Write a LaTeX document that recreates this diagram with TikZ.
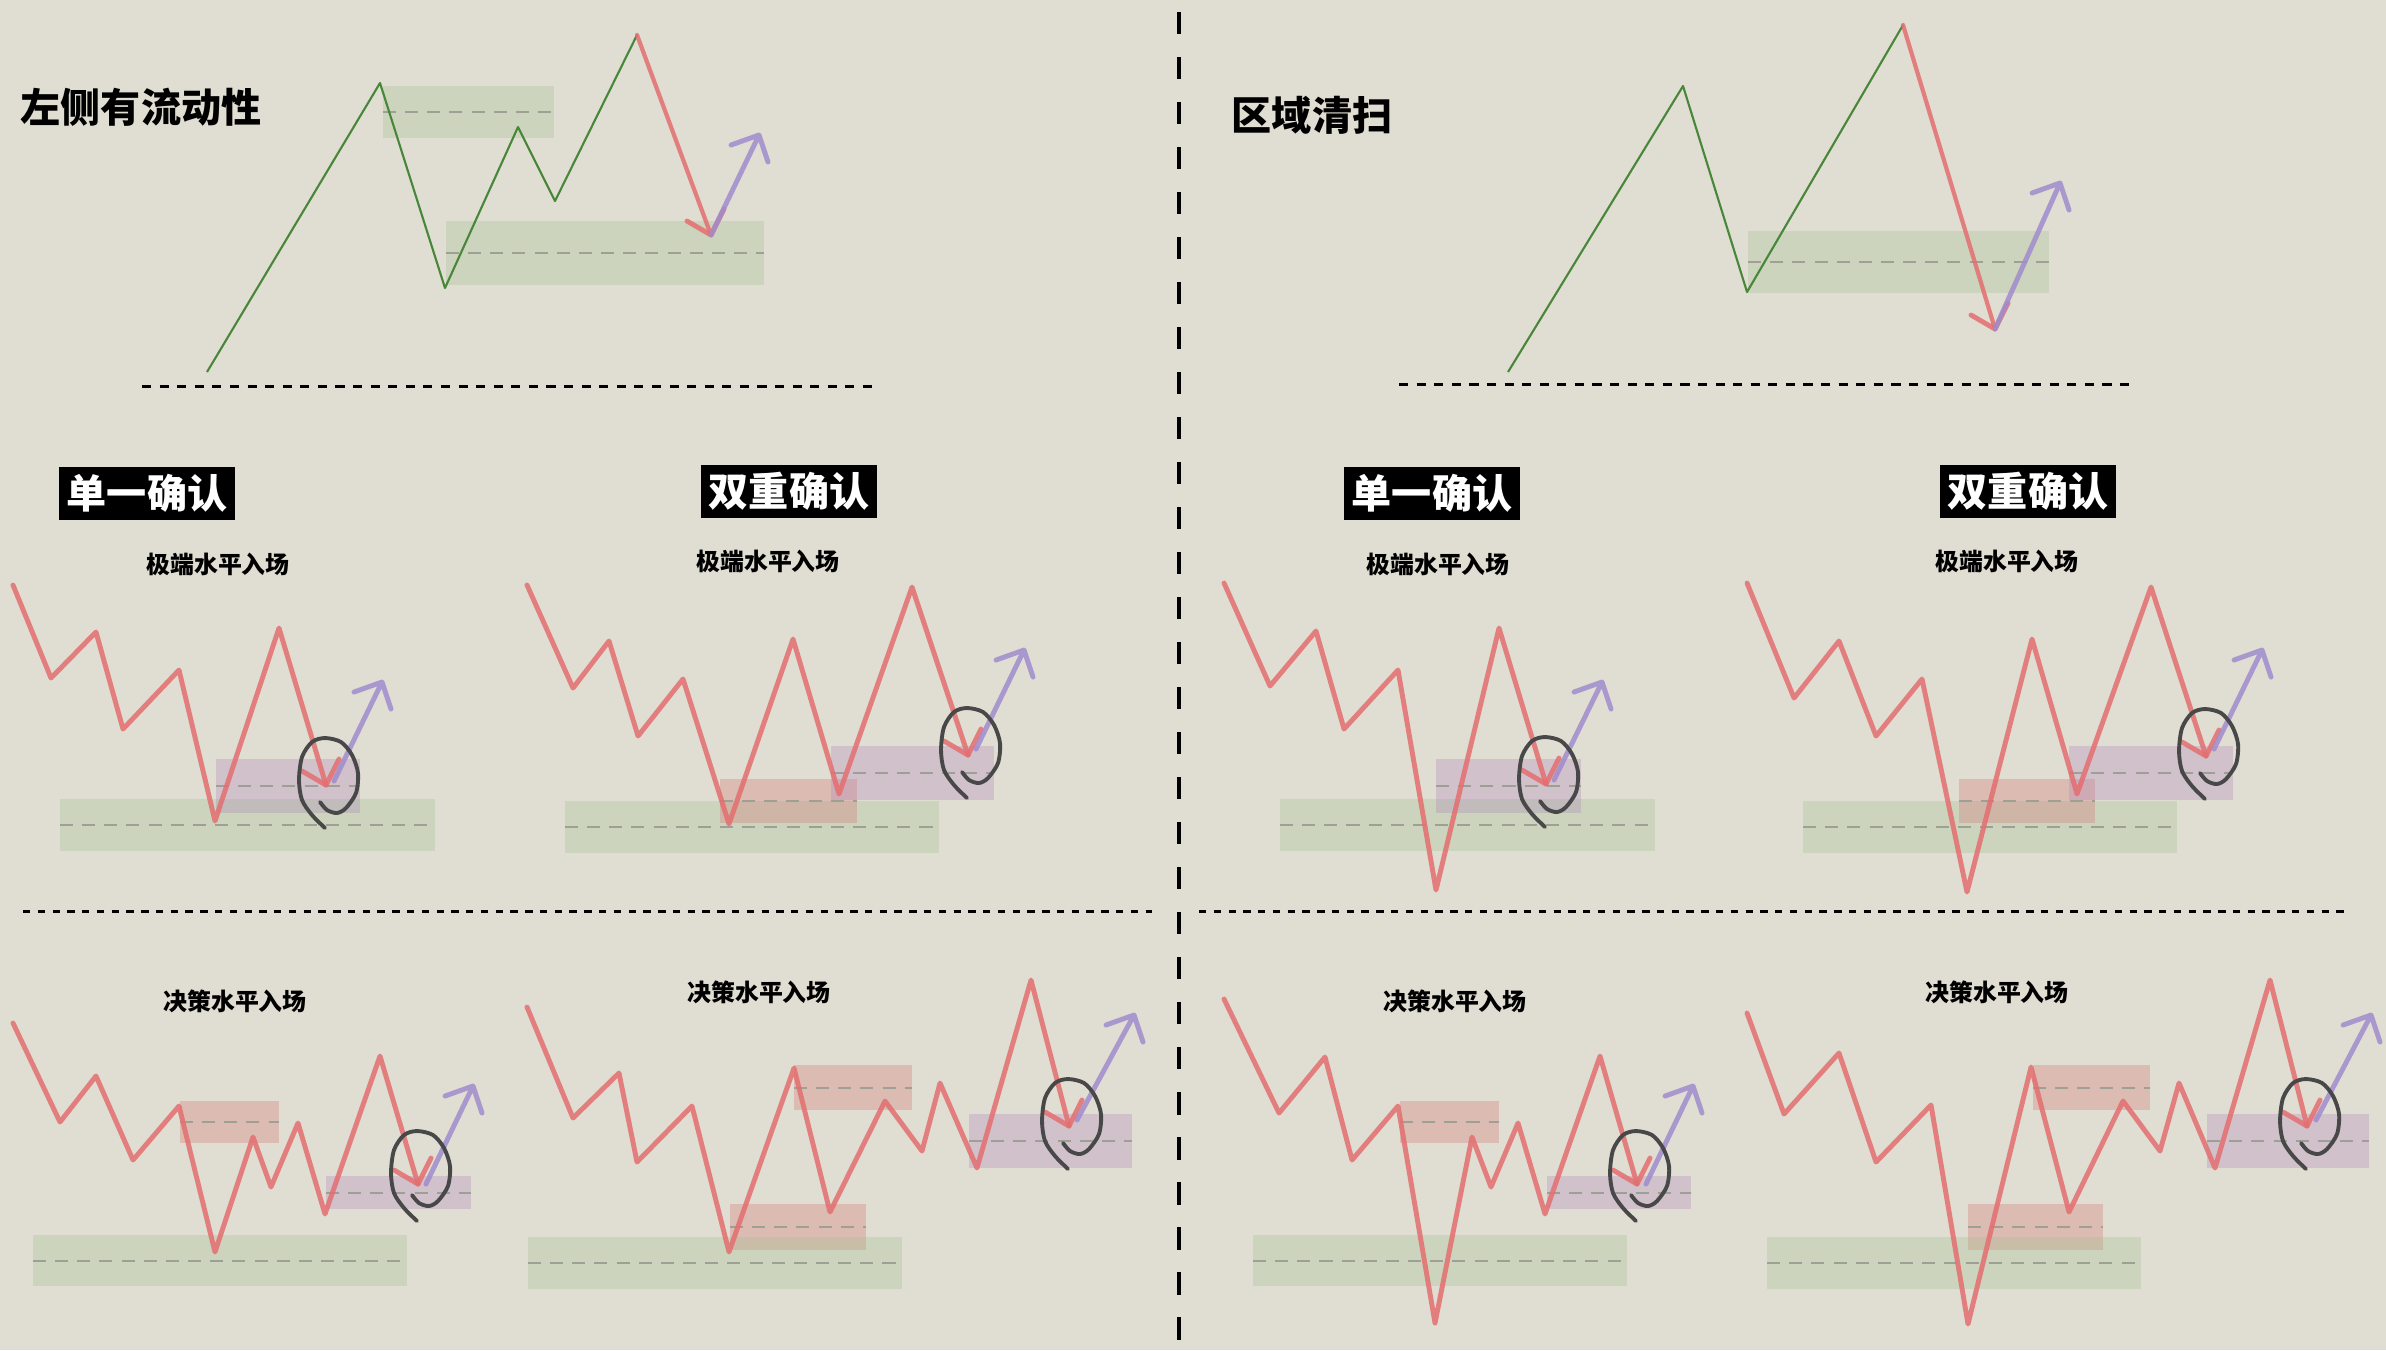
\documentclass[tikz,border=0pt]{standalone}
\usepackage{fontspec}
\newfontfamily\cjk{Noto Sans CJK SC}
\definecolor{paper}{RGB}{224,221,210}
\definecolor{zonegreen}{RGB}{161,194,143}
\definecolor{zonered}{RGB}{211,111,110}
\definecolor{zonepurple}{RGB}{174,131,187}
\definecolor{levelgray}{RGB}{158,160,150}
\definecolor{pricered}{RGB}{228,110,112}
\definecolor{movepurple}{RGB}{160,140,205}
\definecolor{trendgreen}{RGB}{72,135,58}
\definecolor{loopgray}{RGB}{72,72,72}
\tikzset{
  midline/.style={draw=levelgray,line width=0.57pt,dash pattern=on 3.7pt off 2.6pt},
  priceline/.style={draw=pricered,draw opacity=0.85,line width=1.4pt,line join=round,line cap=round},
  upline/.style={draw=movepurple,draw opacity=0.85,line width=1.4pt,line join=round,line cap=round},
  trendline/.style={draw=trendgreen,line width=0.6pt,line join=round},
  loopline/.style={draw=loopgray,line width=1.1pt,line cap=round},
  floorline/.style={draw=black,line width=0.85pt,dash pattern=on 2.6pt off 2.4pt},
  bigtitle/.style={font=\cjk\bfseries\fontsize{11.4}{13}\selectfont,inner sep=0pt},
  header/.style={fill=black,text=white,font=\cjk\bfseries\fontsize{11.4}{13}\selectfont,
    minimum width=1.76cm,minimum height=0.53cm,inner sep=0pt},
  subtitle/.style={font=\cjk\bfseries\fontsize{6.8}{8}\selectfont,inner sep=0pt}
}
\newcommand{\zonebox}[5]{\fill[#1,fill opacity=0.3] (#2,#3) rectangle (#4,#5);
  \draw[midline] (#2,{(#3+#5)/2}) -- (#4,{(#3+#5)/2});}
\newcommand{\redtip}[1]{\draw[priceline] (#1) ++(-24,-14) -- (#1) -- ++(13,-26);}
\newcommand{\upmove}[2]{\draw[upline] (#1) -- (#2) ++(-28,10) -- (#2) -- ++(9,27);}
\newcommand{\handloop}[1]{\draw[loopline,shift={(#1)}] plot[smooth] coordinates
  {(-1,43) (-14,30) (-24,15) (-27,-5) (-24,-28) (-14,-43) (-1,-47) (15,-43) (26,-30)
   (32,-12) (30,8) (20,23) (11,28) (1,25) (-6,17)};}
\begin{document}
\begin{tikzpicture}[x=0.01cm,y=-0.01cm]
  \fill[paper] (0,0) rectangle (2386,1350);
  \useasboundingbox (0,0) rectangle (2386,1350);
  \draw[black,line width=1.1pt,dash pattern=on 6.3pt off 6.5pt] (1179,12) -- (1179,1350);
  \draw[black,line width=0.85pt,dash pattern=on 2.1pt off 2.1pt] (23,911) -- (1152,911);
  \draw[black,line width=0.85pt,dash pattern=on 2.1pt off 2.1pt] (1199,911) -- (2351,911);

  \zonebox{zonegreen}{383}{86}{554}{138}
  \zonebox{zonegreen}{446}{221}{764}{285}
  \draw[floorline] (142,386) -- (875,386);
  \draw[trendline] (207,372) -- (380,83) -- (445,288) -- (518,127) -- (555,201) -- (637,35);
  \draw[priceline,line width=1.2pt] (637,35) -- (711,235);
  \redtip{711,235}
  \upmove{711,235}{759,135}
  \node[bigtitle] (liqleft) at (141,107) {左侧有流动性};

  \zonebox{zonegreen}{1748}{231}{2049}{293}
  \draw[floorline] (1399,384) -- (2132,384);
  \draw[trendline] (1508,372) -- (1683,86) -- (1747,292) -- (1903,25);
  \draw[priceline,line width=1.2pt] (1903,25) -- (1995,329);
  \redtip{1995,329}
  \upmove{1995,329}{2060,183}
  \node[bigtitle] (sweep) at (1312,115) {区域清扫};

  \node[header] (singleL) at (147,493) {单一确认};
  \node[header] (doubleL) at (789,491) {双重确认};
  \node[header] (singleR) at (1432,493) {单一确认};
  \node[header] (doubleR) at (2028,491) {双重确认};
  \node[subtitle] (extA) at (218,564) {极端水平入场};
  \node[subtitle] (extB) at (768,561) {极端水平入场};
  \node[subtitle] (extC) at (1438,564) {极端水平入场};
  \node[subtitle] (extD) at (2007,561) {极端水平入场};
  \node[subtitle] (decE) at (235,1001) {决策水平入场};
  \node[subtitle] (decF) at (759,992) {决策水平入场};
  \node[subtitle] (decG) at (1455,1001) {决策水平入场};
  \node[subtitle] (decH) at (1997,992) {决策水平入场};

  \zonebox{zonegreen}{60}{799}{435}{851}
  \zonebox{zonepurple}{216}{759}{360}{813}
  \draw[priceline] (13,585) -- (51,678) -- (96,632) -- (123,729) -- (179,670) -- (215,821)
    -- (279,628) -- (326,785);
  \redtip{326,785}
  \upmove{334,781}{382,682}
  \handloop{326,785}

  \zonebox{zonegreen}{565}{801}{939}{853}
  \zonebox{zonered}{720}{779}{857}{823}
  \zonebox{zonepurple}{831}{746}{994}{800}
  \draw[priceline] (527,585) -- (573,688) -- (609,641) -- (638,736) -- (683,679) -- (729,824)
    -- (793,639) -- (839,794) -- (912,587) -- (968,755);
  \redtip{968,755}
  \upmove{976,749}{1024,650}
  \handloop{968,755}

  \zonebox{zonegreen}{1280}{799}{1655}{851}
  \zonebox{zonepurple}{1436}{759}{1581}{813}
  \draw[priceline] (1224,583) -- (1270,686) -- (1316,631) -- (1344,729) -- (1398,670)
    -- (1436,890) -- (1499,628) -- (1546,784);
  \redtip{1546,784}
  \upmove{1554,780}{1602,682}
  \handloop{1546,784}

  \zonebox{zonegreen}{1803}{801}{2177}{853}
  \zonebox{zonered}{1959}{779}{2095}{823}
  \zonebox{zonepurple}{2069}{746}{2233}{800}
  \draw[priceline] (1747,583) -- (1794,698) -- (1839,641) -- (1876,736) -- (1922,679)
    -- (1967,892) -- (2032,639) -- (2077,794) -- (2151,587) -- (2206,756);
  \redtip{2206,756}
  \upmove{2214,749}{2262,650}
  \handloop{2206,756}

  \zonebox{zonered}{180}{1101}{279}{1143}
  \zonebox{zonepurple}{326}{1176}{471}{1209}
  \zonebox{zonegreen}{33}{1235}{407}{1286}
  \draw[priceline] (13,1023) -- (60,1122) -- (96,1076) -- (133,1160) -- (179,1106) -- (215,1252)
    -- (253,1137) -- (271,1187) -- (298,1123) -- (325,1214) -- (380,1056) -- (418,1184);
  \redtip{418,1184}
  \upmove{426,1184}{473,1086}
  \handloop{418,1178}

  \zonebox{zonered}{794}{1065}{912}{1110}
  \zonebox{zonered}{730}{1204}{866}{1250}
  \zonebox{zonegreen}{528}{1237}{902}{1289}
  \zonebox{zonepurple}{969}{1114}{1132}{1168}
  \draw[priceline] (527,1007) -- (573,1118) -- (619,1073) -- (637,1162) -- (692,1106)
    -- (729,1252) -- (794,1068) -- (830,1212) -- (885,1101) -- (922,1151) -- (940,1083)
    -- (977,1168) -- (1031,980) -- (1069,1126);
  \redtip{1069,1126}
  \upmove{1077,1120}{1134,1015}
  \handloop{1069,1126}

  \zonebox{zonered}{1400}{1101}{1499}{1143}
  \zonebox{zonepurple}{1547}{1176}{1691}{1209}
  \zonebox{zonegreen}{1253}{1235}{1627}{1286}
  \draw[priceline] (1224,999) -- (1279,1113) -- (1325,1057) -- (1352,1160) -- (1398,1106)
    -- (1435,1323) -- (1472,1137) -- (1491,1187) -- (1518,1123) -- (1545,1214) -- (1600,1056)
    -- (1637,1184);
  \redtip{1637,1184}
  \upmove{1646,1184}{1693,1086}
  \handloop{1637,1178}

  \zonebox{zonered}{2033}{1065}{2150}{1110}
  \zonebox{zonered}{1968}{1204}{2103}{1250}
  \zonebox{zonegreen}{1767}{1237}{2141}{1289}
  \zonebox{zonepurple}{2207}{1114}{2369}{1168}
  \draw[priceline] (1747,1013) -- (1784,1114) -- (1839,1053) -- (1876,1162) -- (1931,1105)
    -- (1968,1324) -- (2031,1067) -- (2069,1212) -- (2123,1101) -- (2160,1151) -- (2179,1083)
    -- (2215,1168) -- (2270,980) -- (2307,1126);
  \redtip{2307,1126}
  \upmove{2316,1120}{2371,1015}
  \handloop{2307,1126}
\end{tikzpicture}
\end{document}
